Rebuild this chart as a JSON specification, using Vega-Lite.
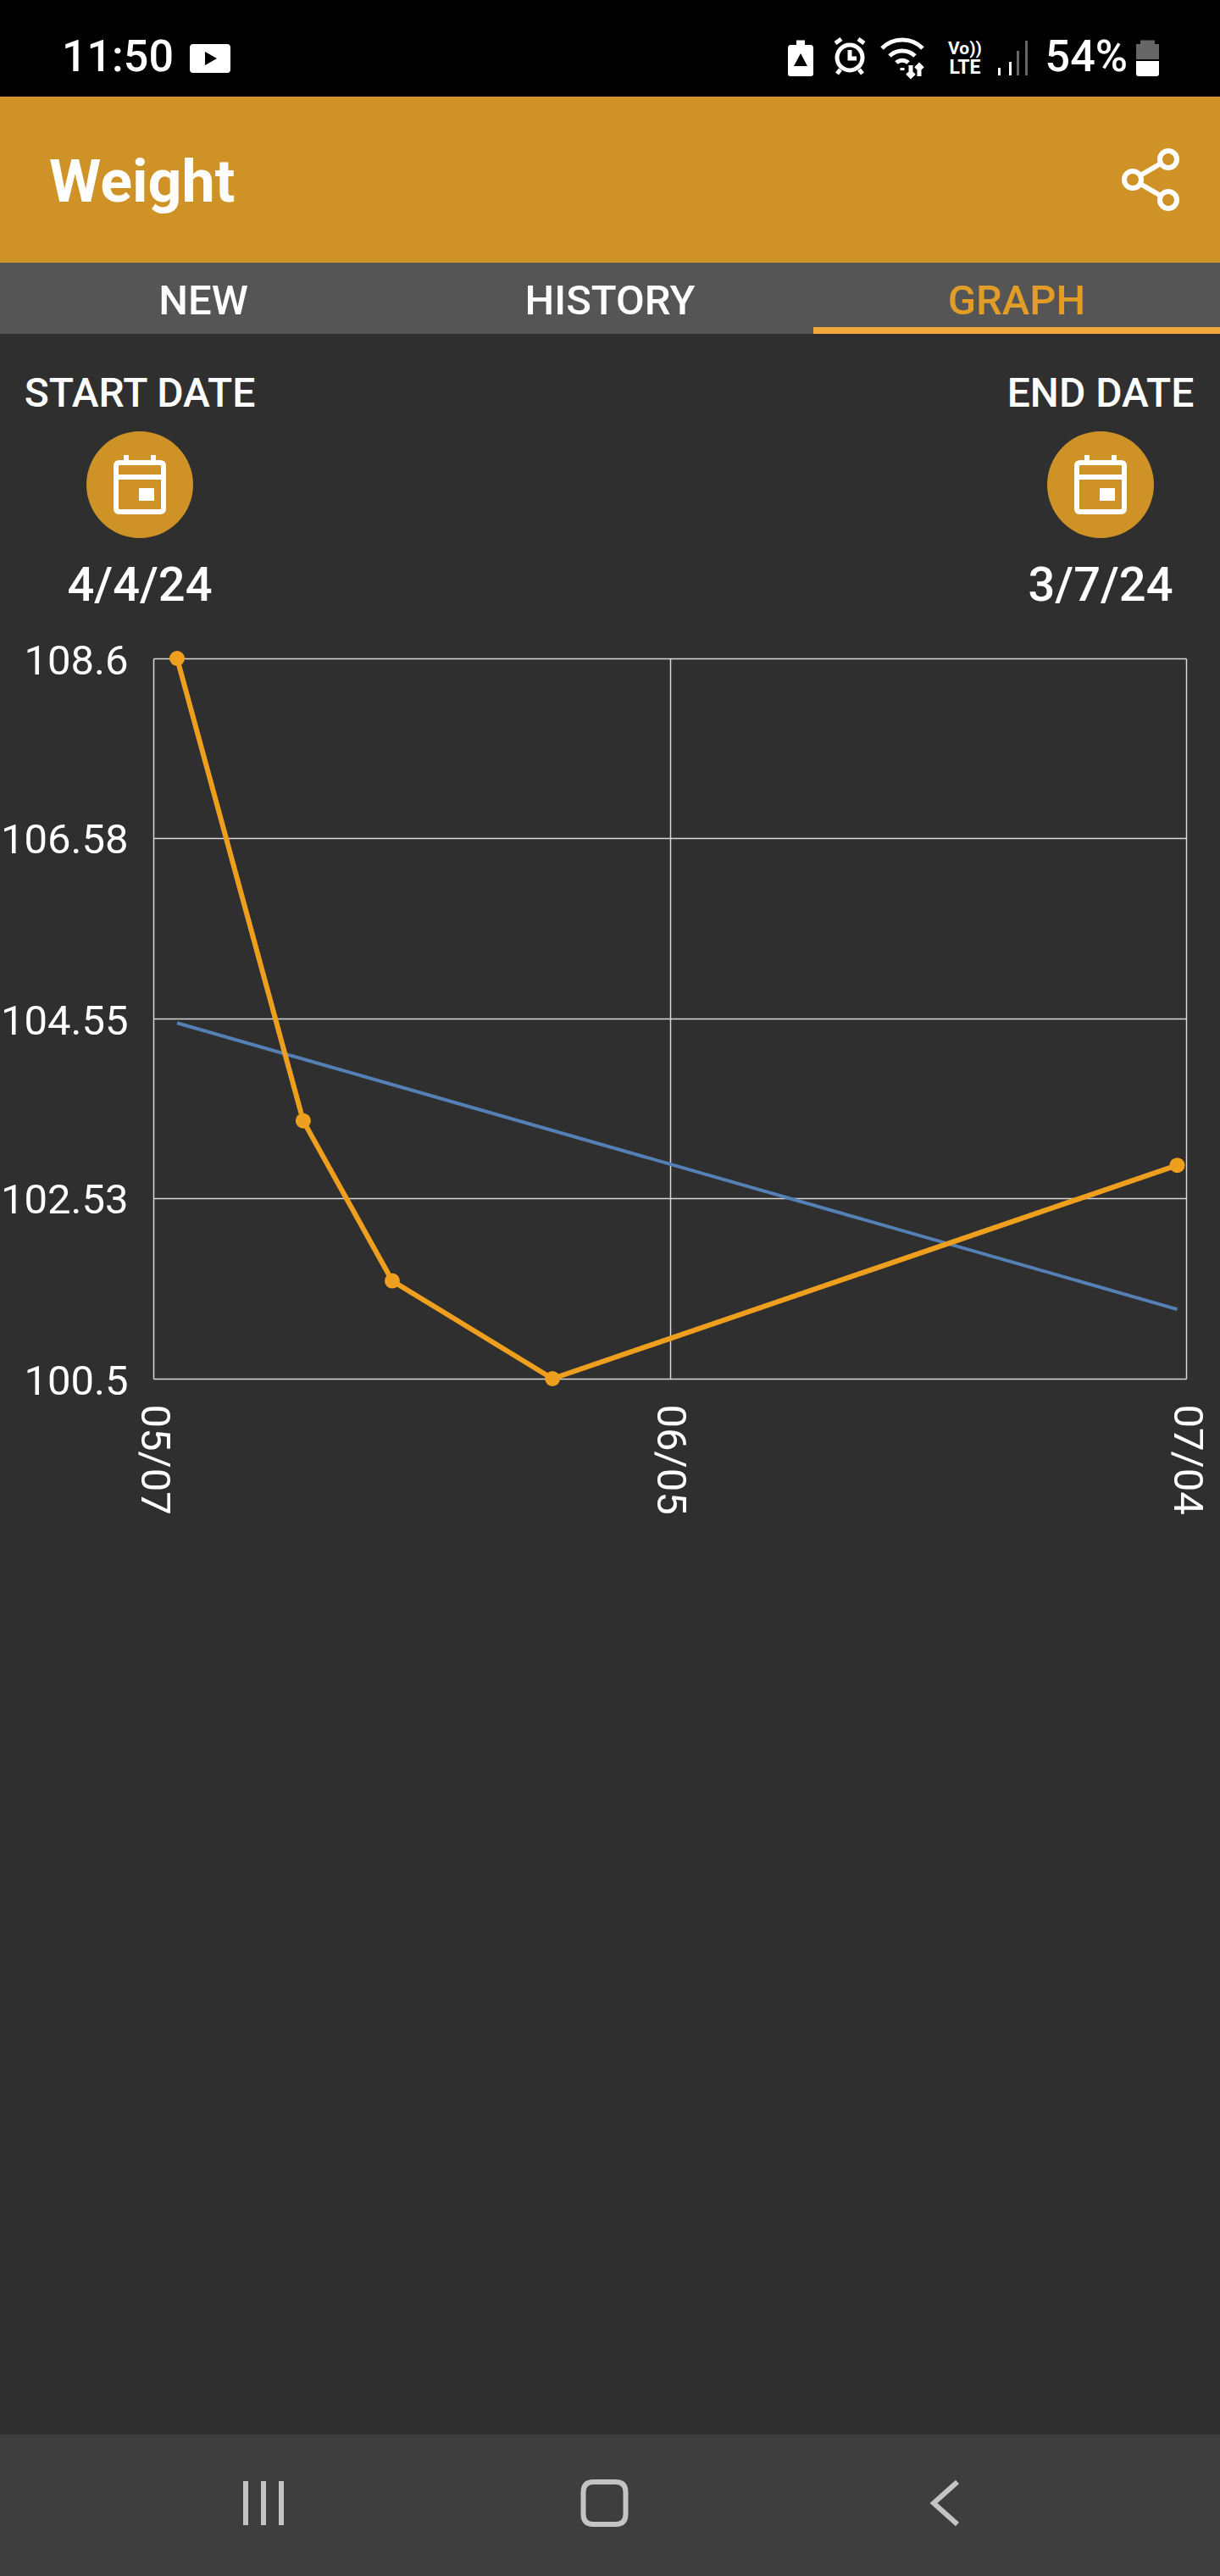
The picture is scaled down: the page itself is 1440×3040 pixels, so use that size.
{
  "$schema": "https://vega.github.io/schema/vega-lite/v6.json",
  "background": "#2f2f2f",
  "padding": 0,
  "spacing": 0,
  "bounds": "flush",
  "resolve": {"scale": {"color": "independent"}},
  "config": {
    "view": {"stroke": null},
    "text": {"font": "Roboto"},
    "axis": {"labelFont": "Roboto"}
  },
  "datasets": {
    "weights": [
      {"date": "2024-05-08T08:00:00Z", "weight": 108.6},
      {"date": "2024-05-15T10:00:00Z", "weight": 103.4},
      {"date": "2024-05-20T10:00:00Z", "weight": 101.6},
      {"date": "2024-05-29T10:00:00Z", "weight": 100.5},
      {"date": "2024-07-03T12:00:00Z", "weight": 102.9}
    ],
    "trend": [
      {"date": "2024-05-08T08:00:00Z", "trend": 104.5},
      {"date": "2024-07-03T12:00:00Z", "trend": 101.28}
    ]
  },
  "vconcat": [
    {
      "width": 1440,
      "height": 114,
      "view": {"fill": "#000000"},
      "encoding": {
        "x": {"field": "slot", "type": "nominal", "axis": null, "scale": {"type": "point", "domain": ["left", "right"], "range": [73, 1331], "padding": 0}}
      },
      "layer": [
        {
          "data": {"values": [{"slot": "left", "label": "11:50"}]},
          "mark": {"type": "text", "align": "left", "baseline": "middle", "dy": 11, "fontSize": 52, "fontWeight": 500, "color": "#ffffff"},
          "encoding": {"text": {"field": "label"}}
        },
        {
          "data": {"values": [{"slot": "right", "label": "54%"}]},
          "mark": {"type": "text", "align": "right", "baseline": "middle", "dy": 11, "fontSize": 52, "fontWeight": 500, "color": "#ffffff"},
          "encoding": {"text": {"field": "label"}}
        },
        {
          "data": {"values": [{"slot": "right", "label": "Vo))"}]},
          "mark": {"type": "text", "align": "center", "baseline": "middle", "dx": -192, "dy": 1, "fontSize": 21, "fontWeight": 700, "color": "#ffffff"},
          "encoding": {"text": {"field": "label"}}
        },
        {
          "data": {"values": [{"slot": "right", "label": "LTE"}]},
          "mark": {"type": "text", "align": "center", "baseline": "middle", "dx": -192, "dy": 23, "fontSize": 23, "fontWeight": 700, "color": "#ffffff"},
          "encoding": {"text": {"field": "label"}}
        },
        {
          "data": {"values": [{"slot": "left"}]},
          "mark": {"type": "point", "filled": true, "opacity": 1, "size": 4, "color": "#ffffff", "shape": "M155 -5H195Q199 -5 199 -1V25Q199 29 195 29H155Q151 29 151 25V-1Q151 -5 155 -5ZM169 4L169 20L183 12Z"}
        },
        {
          "data": {"values": [{"slot": "right"}]},
          "mark": {"type": "point", "filled": true, "opacity": 1, "size": 4, "color": "#ffffff", "shape": "M-398 -4H-374Q-371 -4 -371 0V30Q-371 33 -374 33H-398Q-401 33 -401 30V0Q-401 -4 -398 -4ZM-386 6L-394 21L-378 21ZM-391 -4V-9.5H-381V-4ZM-153 23H-150V32H-153ZM-140 16H-137V32H-140ZM10 15H37V30Q37 33 34 33H13Q10 33 10 30Z"}
        },
        {
          "data": {"values": [{"slot": "right"}]},
          "mark": {"type": "point", "filled": true, "opacity": 1, "size": 4, "color": "#666666", "shape": "M-131 3H-128V32H-131ZM-121 -9H-118V32H-121ZM15 -9.5H32V-5H37V13H10V-5H15Z"}
        },
        {
          "data": {"values": [{"slot": "right"}]},
          "mark": {"type": "point", "filled": false, "opacity": 1, "size": 4, "stroke": "#ffffff", "strokeWidth": 5, "shape": "M-313 11A15 15 0 1 1 -343 11A15 15 0 1 1 -313 11ZM-328 2V12H-320M-345 -6L-338 -11M-311 -6L-318 -11M-339 25L-343 30M-317 25L-313 30M-290 0A34 34 0 0 1 -242 0M-281 9A22 22 0 0 1 -251 9M-273 17A10 10 0 0 1 -259 17M-266 23V26M-246 33V20M-250 24L-246 20L-242 24M-256 20V33M-260 29L-256 33L-252 29"}
        }
      ]
    },
    {
      "width": 1440,
      "height": 196,
      "view": {"fill": "#cf9226"},
      "encoding": {
        "x": {"field": "slot", "type": "nominal", "axis": null, "scale": {"type": "point", "domain": ["title", "share"], "range": [58, 1356], "padding": 0}}
      },
      "layer": [
        {
          "data": {"values": [{"slot": "title", "label": "Weight"}]},
          "mark": {"type": "text", "align": "left", "baseline": "middle", "dy": 5, "fontSize": 70, "fontWeight": 700, "color": "#ffffff"},
          "encoding": {"text": {"field": "label"}}
        },
        {
          "data": {"values": [{"slot": "share"}]},
          "mark": {"type": "point", "filled": false, "opacity": 1, "size": 4, "stroke": "#ffffff", "strokeWidth": 6, "shape": "M33 -24A10 10 0 1 1 13 -24A10 10 0 1 1 33 -24ZM33 24A10 10 0 1 1 13 24A10 10 0 1 1 33 24ZM-9 0A10 10 0 1 1 -29 0A10 10 0 1 1 -9 0ZM-10 -5L14 -19M-10 5L14 19"}
        }
      ]
    },
    {
      "width": 1440,
      "height": 76,
      "view": {"fill": "#555555"},
      "data": {"values": [{"tab": "NEW"}, {"tab": "HISTORY"}, {"tab": "GRAPH"}]},
      "mark": {"type": "text", "baseline": "middle", "dy": 8, "fontSize": 49, "fontWeight": 500},
      "encoding": {
        "x": {"field": "tab", "type": "nominal", "axis": null, "sort": null, "scale": {"type": "band", "padding": 0}},
        "text": {"field": "tab"},
        "color": {"field": "tab", "legend": null, "scale": {"domain": ["NEW", "HISTORY", "GRAPH"], "range": ["#ffffff", "#ffffff", "#e29d28"]}}
      }
    },
    {
      "width": 1440,
      "height": 8,
      "data": {"values": [{"tab": "NEW"}, {"tab": "HISTORY"}, {"tab": "GRAPH"}]},
      "mark": {"type": "bar"},
      "encoding": {
        "x": {"field": "tab", "type": "nominal", "axis": null, "sort": null, "scale": {"type": "band", "padding": 0}},
        "color": {"field": "tab", "legend": null, "scale": {"domain": ["NEW", "HISTORY", "GRAPH"], "range": ["#555555", "#555555", "#f0a93c"]}}
      }
    },
    {
      "width": 1440,
      "height": 356,
      "data": {"values": [
        {"side": "start", "heading": "START DATE", "picked": "4/4/24"},
        {"side": "end", "heading": "END DATE", "picked": "3/7/24"}
      ]},
      "encoding": {
        "x": {"field": "side", "type": "nominal", "axis": null, "scale": {"type": "point", "domain": ["start", "end"], "range": [165, 1299], "padding": 0}}
      },
      "layer": [
        {
          "mark": {"type": "text", "baseline": "middle", "dy": -106, "fontSize": 48, "fontWeight": 500, "color": "#ffffff"},
          "encoding": {"text": {"field": "heading"}}
        },
        {
          "mark": {"type": "point", "shape": "circle", "filled": true, "opacity": 1, "size": 15876, "color": "#cf9226"}
        },
        {
          "mark": {"type": "point", "filled": false, "opacity": 1, "size": 4, "stroke": "#ffffff", "strokeWidth": 6, "shape": "M-24 -26H24Q28 -26 28 -22V28Q28 32 24 32H-24Q-28 32 -28 28V-22Q-28 -26 -24 -26ZM-28 -9H28M-16 -35V-26M16 -35V-26M2 7H14V16H2ZM2 11H14"}
        },
        {
          "mark": {"type": "text", "baseline": "middle", "dy": 120, "fontSize": 56, "fontWeight": 500, "color": "#ffffff"},
          "encoding": {"text": {"field": "picked"}}
        }
      ]
    },
    {
      "width": 1440,
      "height": 26.5,
      "data": {"values": []},
      "mark": "point"
    },
    {
      "width": 1440,
      "height": 850,
      "encoding": {
        "x": {
          "field": "date",
          "type": "temporal",
          "title": null,
          "scale": {
            "type": "utc",
            "domain": [{"year": 2024, "month": 5, "date": 7, "utc": true}, {"year": 2024, "month": 7, "date": 4, "utc": true}],
            "range": [181, 1400],
            "nice": false
          },
          "axis": {
            "values": [
              {"year": 2024, "month": 5, "date": 7, "utc": true},
              {"year": 2024, "month": 6, "date": 5, "utc": true},
              {"year": 2024, "month": 7, "date": 4, "utc": true}
            ],
            "format": "%m/%d",
            "grid": true,
            "gridColor": "#d8d8d8",
            "gridWidth": 1.5,
            "domain": false,
            "ticks": false,
            "labelAngle": 90,
            "labelAlign": "left",
            "labelBaseline": "middle",
            "labelPadding": 30,
            "labelFontSize": 49,
            "labelColor": "#ffffff",
            "labelOverlap": false,
            "labelFlush": false,
            "labelBound": false
          }
        }
      },
      "layer": [
        {
          "data": {"name": "trend"},
          "mark": {"type": "line", "color": "#5480b6", "strokeWidth": 4},
          "encoding": {
            "y": {
              "field": "trend",
              "type": "quantitative",
              "title": null,
              "scale": {"domain": [100.5, 108.6], "nice": false, "zero": false},
              "axis": {
                "values": [100.5, 102.53, 104.55, 106.58, 108.6],
                "format": ".2~f",
                "offset": -181,
                "grid": true,
                "gridColor": "#d8d8d8",
                "gridWidth": 1.5,
                "domain": false,
                "ticks": false,
                "labelPadding": 30,
                "labelOffset": 3,
                "labelFontSize": 49,
                "labelColor": "#ffffff",
                "labelOverlap": false,
                "labelFlush": false,
                "labelBound": false
              }
            }
          }
        },
        {
          "data": {"name": "weights"},
          "mark": {"type": "line", "color": "#ee9f1e", "strokeWidth": 6},
          "encoding": {"y": {"field": "weight", "type": "quantitative"}}
        },
        {
          "data": {"name": "weights"},
          "mark": {"type": "point", "shape": "circle", "filled": true, "opacity": 1, "size": 324, "color": "#ee9f1e"},
          "encoding": {"y": {"field": "weight", "type": "quantitative"}}
        }
      ]
    },
    {
      "width": 1440,
      "height": 1245.5,
      "data": {"values": []},
      "mark": "point"
    },
    {
      "width": 1440,
      "height": 168,
      "view": {"fill": "#3e3e3e"},
      "data": {"values": [{"button": "recents"}, {"button": "home"}, {"button": "back"}]},
      "mark": {"type": "point", "filled": false, "opacity": 1, "size": 4, "stroke": "#c4c4c4", "strokeWidth": 6},
      "encoding": {
        "x": {"field": "button", "type": "nominal", "axis": null, "scale": {"type": "point", "domain": ["recents", "home", "back"], "range": [311, 1116], "padding": 0}},
        "shape": {
          "field": "button",
          "legend": null,
          "scale": {
            "domain": ["recents", "home", "back"],
            "range": [
              "M-21 -29V23M0 -29V23M21 -29V23",
              "M-13 -28H13Q25 -28 25 -16V10Q25 22 13 22H-13Q-25 22 -25 10V-16Q-25 -28 -13 -28Z",
              "M14 -28L-14 -3L14 22"
            ]
          }
        }
      }
    }
  ]
}
